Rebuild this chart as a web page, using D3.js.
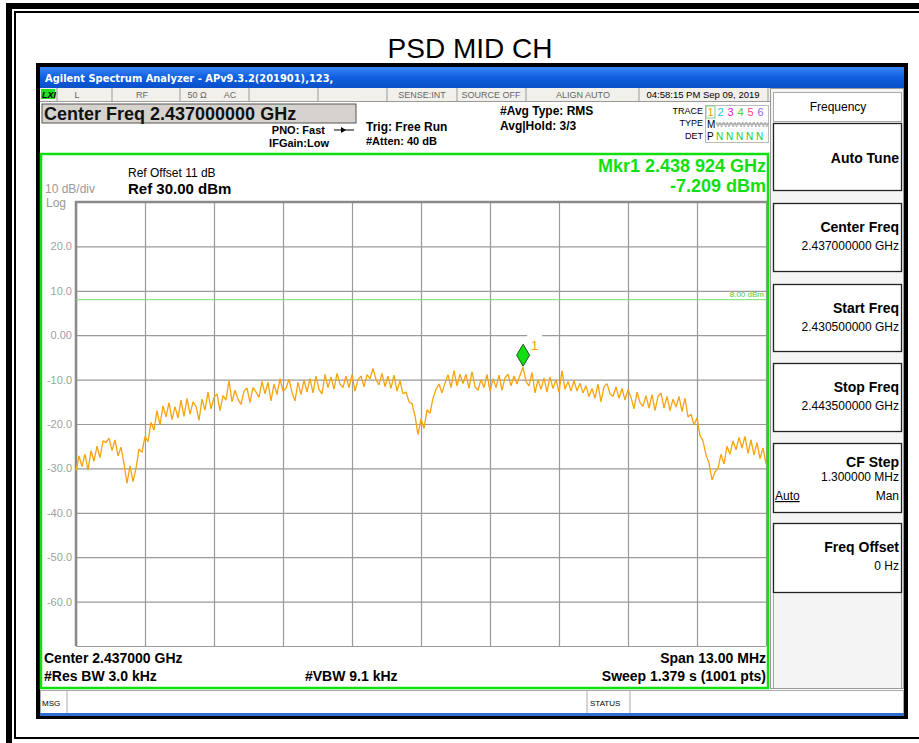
<!DOCTYPE html>
<html>
<head>
<meta charset="utf-8">
<style>
body { margin: 0; background: #fff; }
svg { display: block; font-family: "Liberation Sans", Arial, sans-serif; }
.ylab { fill: #a0a0a0; font-size: 11px; }
.grid line { stroke: #9a9a9a; stroke-width: 1.2; }
.grid path { display: none; }
</style>
<script src="https://cdn.jsdelivr.net/npm/d3@7"></script>
</head>
<body>
<script>
// sweep settings
var startFreq = 2.4305, stopFreq = 2.4435; // GHz
var refLevel = 30, bottomLevel = -70;      // dBm
var yTicks = [30, 20, 10, 0, -10, -20, -30, -40, -50, -60, -70];
var yTickLabels = ["", "20.0", "10.0", "0.00", "-10.0", "-20.0", "-30.0", "-40.0", "-50.0", "-60.0", ""];
var xTicks = [2.4305, 2.4318, 2.4331, 2.4344, 2.4357, 2.437, 2.4383, 2.4396, 2.4409, 2.4422, 2.4435];
var displayLine = 8.00;
var mkrFreq = 2.438924, mkrLevel = -7.209;

// trace, 231 samples across the span (dBm)
var trace = [
  -30.5, -27.2, -29.6, -26.8, -30.4, -26.0, -28.4, -25.0, -27.6, -23.8,
  -24.2, -23.2, -26.0, -23.6, -27.2, -25.2, -28.9, -33.4, -29.4, -33.0,
  -30.0, -25.6, -26.4, -22.8, -24.0, -19.6, -21.4, -17.0, -20.2, -15.9,
  -18.4, -15.2, -19.0, -16.1, -18.6, -14.6, -18.3, -14.2, -17.8, -15.0,
  -16.0, -19.2, -14.4, -16.9, -12.8, -16.6, -14.0, -13.2, -17.0, -13.6,
  -14.6, -10.2, -15.0, -12.4, -14.4, -15.6, -12.6, -11.9, -15.2, -11.8,
  -12.8, -14.0, -10.4, -13.2, -10.6, -14.8, -11.0, -13.4, -9.8, -12.6,
  -12.0, -9.9, -12.9, -14.8, -10.6, -13.4, -10.1, -12.8, -9.7, -13.0,
  -9.2, -12.2, -13.2, -8.8, -11.8, -9.4, -12.2, -8.6, -11.0, -11.8,
  -9.2, -11.8, -8.9, -12.6, -10.0, -9.2, -11.6, -8.9, -9.8, -7.5,
  -10.0, -11.2, -8.6, -11.6, -9.2, -12.0, -9.0, -12.6, -10.2, -13.2,
  -12.8, -15.0, -15.4, -18.2, -22.4, -18.8, -21.0, -16.8, -17.6, -14.2,
  -12.2, -11.0, -13.0, -10.8, -8.9, -11.8, -7.9, -11.4, -8.8, -10.9,
  -8.8, -12.0, -8.2, -11.6, -12.4, -10.0, -11.8, -8.8, -12.6, -9.8,
  -11.8, -9.0, -12.4, -9.6, -8.8, -11.4, -9.2, -11.0, -9.0, -7.2,
  -10.4, -11.4, -8.4, -13.0, -10.0, -12.2, -9.6, -12.8, -9.4, -12.0,
  -10.0, -12.9, -8.0, -12.2, -10.4, -12.6, -10.2, -12.6, -10.8, -13.0,
  -11.4, -13.8, -12.0, -14.2, -11.0, -15.0, -11.6, -10.9, -13.2, -13.8,
  -11.6, -14.2, -12.0, -14.6, -12.2, -14.0, -16.6, -12.8, -15.2, -16.0,
  -13.6, -16.4, -13.4, -17.0, -13.8, -13.0, -16.4, -13.8, -17.0, -14.4,
  -16.2, -13.8, -17.2, -14.2, -18.4, -17.8, -20.2, -18.6, -22.6, -23.8,
  -27.0, -28.8, -32.6, -30.8, -30.0, -26.8, -29.0, -25.0, -26.8, -23.8,
  -25.8, -23.0, -25.4, -22.8, -26.6, -23.6, -27.0, -24.2, -27.8, -25.4,
  -29.0
];

// softkey menu
var menuTitles = ["Auto Tune", "Center Freq", "Start Freq", "Stop Freq", "CF Step", "Freq Offset"];
var menuValues = ["", "2.437000000 GHz", "2.430500000 GHz", "2.443500000 GHz", "1.300000 MHz", "0 Hz"];

var statusCells = ["L", "RF", "50 \u03a9", "AC"];
var traceNums = ["1", "2", "3", "4", "5", "6"];
var traceCols = ["#f5a000", "#20c8f0", "#e020e0", "#40d040", "#ff4080", "#9060f0"];

var W = 919, H = 743;
var svg = d3.select("body").append("svg").attr("width", W).attr("height", H);

// outer document frame
svg.append("rect").attr("x", 9).attr("y", 6).attr("width", 930).attr("height", 740)
  .attr("fill", "none").attr("stroke", "#000").attr("stroke-width", 6);
svg.append("rect").attr("x", 15).attr("y", 12).attr("width", 920).attr("height", 726)
  .attr("fill", "none").attr("stroke", "#000").attr("stroke-width", 2);

svg.append("text").attr("x", 470).attr("y", 58).attr("text-anchor", "middle")
  .style("font-size", "28px").text("PSD MID CH");

// instrument screenshot
svg.append("rect").attr("x", 36).attr("y", 63).attr("width", 872).attr("height", 656).attr("fill", "#000");
svg.append("rect").attr("x", 40).attr("y", 67).attr("width", 864).attr("height", 649).attr("fill", "#fff");

var grad = svg.append("defs").append("linearGradient").attr("id", "tb").attr("x1", 0).attr("x2", 0).attr("y1", 0).attr("y2", 1);
grad.append("stop").attr("offset", "0").attr("stop-color", "#3b86f5");
grad.append("stop").attr("offset", "0.5").attr("stop-color", "#0f5fe0");
grad.append("stop").attr("offset", "1").attr("stop-color", "#0a4fc8");
svg.append("rect").attr("x", 40).attr("y", 67).attr("width", 864).attr("height", 21).attr("fill", "url(#tb)");
svg.append("text").attr("x", 45).attr("y", 82).attr("fill", "#fff")
  .style("font-size", "11px").style("font-weight", "bold").style("font-family", "'DejaVu Sans Condensed', 'Liberation Sans Narrow', sans-serif")
  .text("Agilent Spectrum Analyzer - APv9.3.2(201901),123,");

// status row
var sr = svg.append("g");
sr.append("rect").attr("x", 40).attr("y", 88).attr("width", 730).attr("height", 13).attr("fill", "#f2f0ea");
sr.append("rect").attr("x", 41).attr("y", 89).attr("width", 14).attr("height", 10).attr("fill", "#20e020");
sr.append("text").attr("x", 42).attr("y", 98).style("font-size", "9px").style("font-weight", "bold").style("font-style", "italic").text("LXI");
[57, 112, 180, 249, 318, 387, 457, 526, 639, 768].forEach(function(x) {
  sr.append("line").attr("x1", x).attr("x2", x).attr("y1", 88).attr("y2", 101).attr("stroke", "#9a9a9a");
});
var sx = [77, 142, 197, 230];
statusCells.forEach(function(t, i) {
  sr.append("text").attr("x", sx[i]).attr("y", 98).attr("text-anchor", "middle").attr("fill", "#666").style("font-size", "9px").text(t);
});
sr.append("text").attr("x", 422).attr("y", 98).attr("text-anchor", "middle").attr("fill", "#666").style("font-size", "9px").text("SENSE:INT");
sr.append("text").attr("x", 491).attr("y", 98).attr("text-anchor", "middle").attr("fill", "#666").style("font-size", "9px").text("SOURCE OFF");
sr.append("text").attr("x", 583).attr("y", 98).attr("text-anchor", "middle").attr("fill", "#666").style("font-size", "9px").text("ALIGN AUTO");
sr.append("text").attr("x", 703).attr("y", 98).attr("text-anchor", "middle").attr("fill", "#000").style("font-size", "9.5px").text("04:58:15 PM Sep 09, 2019");
sr.append("line").attr("x1", 40).attr("x2", 770).attr("y1", 101.5).attr("y2", 101.5).attr("stroke", "#9a9a9a");

// center freq box and settings
svg.append("rect").attr("x", 42).attr("y", 104).attr("width", 314).attr("height", 19)
  .attr("fill", "#d6d3ce").attr("stroke", "#555").attr("stroke-width", 1);
svg.append("text").attr("x", 44).attr("y", 120).style("font-size", "18px").style("font-weight", "bold").attr("fill", "#111")
  .text("Center Freq 2.437000000 GHz");
var bold11 = function(x, y, t, anchor) {
  return svg.append("text").attr("x", x).attr("y", y).attr("text-anchor", anchor || "start")
    .style("font-size", "11px").style("font-weight", "bold").text(t);
};
bold11(325, 134, "PNO: Fast", "end");
svg.append("line").attr("x1", 334).attr("x2", 354).attr("y1", 130).attr("y2", 130).attr("stroke", "#000");
svg.append("path").attr("d", "M341,127 L346,130 L341,133 Z").attr("fill", "#000");
bold11(329, 147, "IFGain:Low", "end");
svg.append("text").attr("x", 366).attr("y", 131).style("font-size", "12px").style("font-weight", "bold").text("Trig: Free Run");
bold11(366, 145, "#Atten: 40 dB");
svg.append("text").attr("x", 500).attr("y", 115).style("font-size", "12px").style("font-weight", "bold").text("#Avg Type: RMS");
svg.append("text").attr("x", 500).attr("y", 130).style("font-size", "12px").style("font-weight", "bold").text("Avg|Hold: 3/3");

// trace table
var tt = svg.append("g").style("font-size", "9px");
tt.append("text").attr("x", 703).attr("y", 114).attr("text-anchor", "end").text("TRACE");
tt.append("text").attr("x", 703).attr("y", 126).attr("text-anchor", "end").text("TYPE");
tt.append("text").attr("x", 703).attr("y", 139).attr("text-anchor", "end").text("DET");
tt.append("rect").attr("x", 705.5).attr("y", 105.5).attr("width", 63).attr("height", 37).attr("fill", "none").attr("stroke", "#bbb");
tt.append("rect").attr("x", 706).attr("y", 106).attr("width", 9).attr("height", 12).attr("fill", "#fff").attr("stroke", "#8c8");
traceNums.forEach(function(n, i) {
  tt.append("text").attr("x", 707.5 + i * 10).attr("y", 116).attr("fill", traceCols[i]).style("font-size", "11px").text(n);
});
tt.append("text").attr("x", 707).attr("y", 128).style("font-size", "10px").text("M");
tt.append("text").attr("x", 716).attr("y", 127).attr("fill", "#999").style("font-size", "8px").text("WWWWWWW");
tt.append("line").attr("x1", 716).attr("x2", 768).attr("y1", 124).attr("y2", 124).attr("stroke", "#999");
tt.append("text").attr("x", 707).attr("y", 140).style("font-size", "10px").text("P");
tt.append("text").attr("x", 716).attr("y", 140).attr("fill", "#20d020").style("font-size", "10px").text("N N N N N");

// softkey panel
var mp = svg.append("g");
mp.append("rect").attr("x", 770.5).attr("y", 88.5).attr("width", 133).attr("height", 600).attr("fill", "#f4f4f4").attr("stroke", "#999");
mp.append("rect").attr("x", 773.5).attr("y", 92.5).attr("width", 128).attr("height", 29).attr("fill", "#fff").attr("stroke", "#aaa");
mp.append("text").attr("x", 838).attr("y", 111).attr("text-anchor", "middle").style("font-size", "12px").text("Frequency");
var keyTop = [123, 203, 284, 363, 443, 523];
var keyH = [67, 68, 67, 68, 69, 69];
menuTitles.forEach(function(t, i) {
  var y0 = keyTop[i];
  mp.append("rect").attr("x", 773.5).attr("y", y0 + 0.5).attr("width", 128).attr("height", keyH[i])
    .attr("fill", "#fff").attr("stroke", "#222").attr("stroke-width", 1.3);
  var ty = menuValues[i] === "" ? y0 + 40 : y0 + 29;
  if (i === 4) ty = y0 + 24;
  mp.append("text").attr("x", 899).attr("y", ty).attr("text-anchor", "end")
    .style("font-size", "14px").style("font-weight", "bold").text(t);
  if (menuValues[i] !== "") {
    mp.append("text").attr("x", 899).attr("y", ty + 18 - (i === 4 ? 4 : 0)).attr("text-anchor", "end")
      .style("font-size", "12px").text(menuValues[i]);
  }
});
mp.append("text").attr("x", 775).attr("y", 500).style("font-size", "12px").style("text-decoration", "underline").text("Auto");
mp.append("text").attr("x", 899).attr("y", 500).attr("text-anchor", "end").style("font-size", "12px").text("Man");
mp.append("line").attr("x1", 773.5).attr("x2", 773.5).attr("y1", 593).attr("y2", 688).attr("stroke", "#aaa");
mp.append("line").attr("x1", 901.5).attr("x2", 901.5).attr("y1", 593).attr("y2", 688).attr("stroke", "#aaa");

// msg bar
svg.append("rect").attr("x", 40.5).attr("y", 690.5).attr("width", 863).attr("height", 23).attr("fill", "#fff").attr("stroke", "#aaa");
[67, 587, 630].forEach(function(x) {
  svg.append("line").attr("x1", x).attr("x2", x).attr("y1", 691).attr("y2", 713).attr("stroke", "#aaa");
});
svg.append("text").attr("x", 42).attr("y", 706).style("font-size", "8px").text("MSG");
svg.append("text").attr("x", 590).attr("y", 706).style("font-size", "8px").text("STATUS");
svg.append("rect").attr("x", 40).attr("y", 713).attr("width", 864).attr("height", 3).attr("fill", "#2f6fd0");

// plot
var x = d3.scaleLinear().domain([startFreq, stopFreq]).range([76, 766]);
var y = d3.scaleLinear().domain([bottomLevel, refLevel]).range([646, 202]);

svg.append("g").attr("class", "grid").attr("transform", "translate(0,646)")
  .call(d3.axisBottom(x).tickValues(xTicks).tickSize(-444).tickFormat(""));
svg.append("g").attr("class", "grid").attr("transform", "translate(76,0)")
  .call(d3.axisLeft(y).tickValues(yTicks).tickSize(-690).tickFormat(""));
// darker frame on top/left
svg.append("line").attr("x1", 75).attr("x2", 767).attr("y1", 202).attr("y2", 202).attr("stroke", "#8a8a8a").attr("stroke-width", 2.5);
svg.append("line").attr("x1", 76).attr("x2", 76).attr("y1", 201).attr("y2", 646).attr("stroke", "#8a8a8a").attr("stroke-width", 2.5);

svg.selectAll(".ylab").data(yTicks).enter().append("text").attr("class", "ylab")
  .attr("x", 72).attr("y", function(d) { return y(d) + 4; }).attr("text-anchor", "end")
  .text(function(d, i) { return yTickLabels[i]; });

// display line
svg.append("line").attr("x1", 76).attr("x2", 766).attr("y1", y(displayLine)).attr("y2", y(displayLine))
  .attr("stroke", "#70e070").attr("stroke-width", 1);
svg.append("text").attr("x", 764).attr("y", y(displayLine) - 3).attr("text-anchor", "end")
  .attr("fill", "#40d040").style("font-size", "8px").text("8.00 dBm");

var step = (stopFreq - startFreq) / (trace.length - 1);
var line = d3.line().x(function(d, i) { return x(startFreq + i * step); }).y(function(d) { return y(d); });
svg.append("path").datum(trace).attr("d", line).attr("fill", "none")
  .attr("stroke", "#f7a30e").attr("stroke-width", 1.3).attr("stroke-linejoin", "bevel");

// marker
var mx = x(mkrFreq), my = y(mkrLevel);
svg.append("rect").attr("x", mx + 4).attr("y", my - 37).attr("width", 15).attr("height", 10).attr("fill", "#fff");
svg.append("path").attr("d", "M" + mx + "," + (my - 1) + " L" + (mx + 6.5) + "," + (my - 12) + " L" + mx + "," + (my - 23) + " L" + (mx - 6.5) + "," + (my - 12) + " Z")
  .attr("fill", "#10e010").attr("stroke", "#225522").attr("stroke-width", 1);
svg.append("text").attr("x", mx + 8).attr("y", my - 17).attr("fill", "#f5a000").style("font-size", "13px").text("1");

// chart annotations
svg.append("text").attr("x", 128).attr("y", 177).style("font-size", "12px").text("Ref Offset 11 dB");
svg.append("text").attr("x", 128).attr("y", 194).style("font-size", "15px").style("font-weight", "bold").text("Ref 30.00 dBm");
svg.append("text").attr("x", 45).attr("y", 193).attr("fill", "#999").style("font-size", "12px").text("10 dB/div");
svg.append("text").attr("x", 46).attr("y", 207).attr("fill", "#999").style("font-size", "12px").text("Log");
svg.append("text").attr("x", 766).attr("y", 172).attr("text-anchor", "end").attr("fill", "#10e010")
  .style("font-size", "18px").style("font-weight", "bold").text("Mkr1 2.438 924 GHz");
svg.append("text").attr("x", 766).attr("y", 192).attr("text-anchor", "end").attr("fill", "#10e010")
  .style("font-size", "18px").style("font-weight", "bold").text("-7.209 dBm");

var b14 = function(xx, yy, t, anchor) {
  svg.append("text").attr("x", xx).attr("y", yy).attr("text-anchor", anchor)
    .style("font-size", "14px").style("font-weight", "bold").text(t);
};
b14(44, 663, "Center 2.437000 GHz", "start");
b14(766, 663, "Span 13.00 MHz", "end");
b14(44, 681, "#Res BW 3.0 kHz", "start");
b14(305, 681, "#VBW 9.1 kHz", "start");
b14(766, 681, "Sweep  1.379 s (1001 pts)", "end");

// green chart frame
svg.append("rect").attr("x", 41).attr("y", 154).attr("width", 727).attr("height", 534)
  .attr("fill", "none").attr("stroke", "#10e010").attr("stroke-width", 2.5);
</script>
</body>
</html>
